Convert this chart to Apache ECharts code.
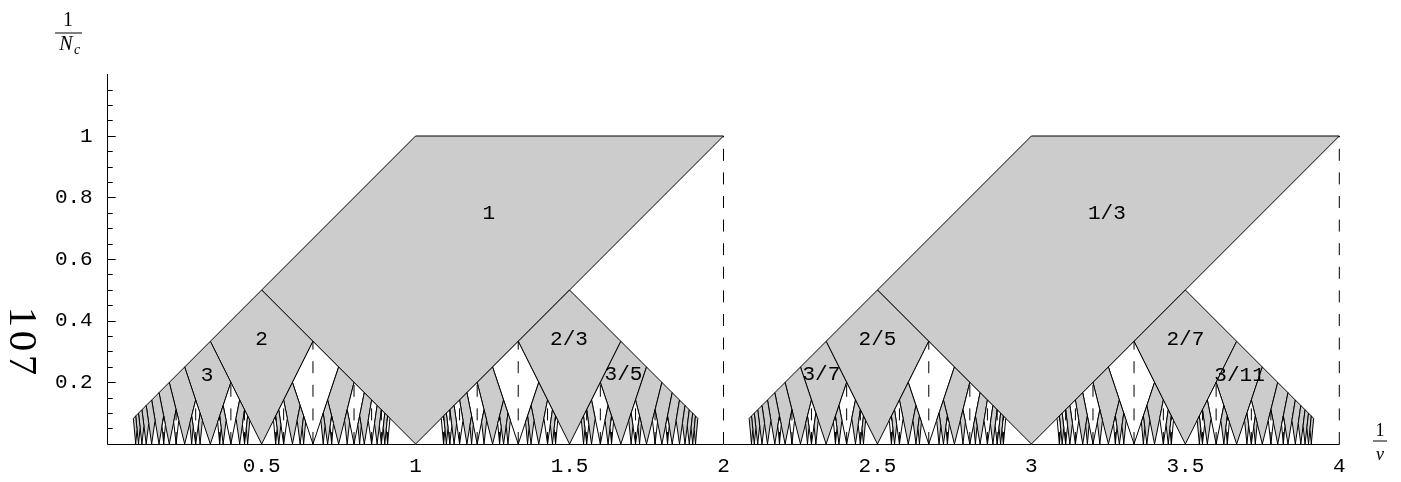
<!DOCTYPE html>
<html>
<head>
<meta charset="utf-8">
<script src="https://cdn.jsdelivr.net/npm/echarts@6/dist/echarts.min.js"></script>
<style>
html, body { margin: 0; padding: 0; background: #fff; }
#chart { width: 1401px; height: 482px; }
</style>
</head>
<body>
<div id="chart"></div>
<script>
// the two panels; the second is the first one shifted by 2 in 1/nu
var panelShifts = [0, 2];
// Farey bounds of a panel as [q, p] for x = q/p, height 1/p
var boundLeft = [0, 1];
var boundRight = [2, 1];
// largest N_c that still gets its own cell
var maxNc = 11;

var labelTexts = ['1', '2', '3', '2/3', '3/5', '1/3', '2/5', '3/7', '2/7', '3/11'];
var labelX = [1.238, 0.500, 0.323, 1.498, 1.675, 3.245, 2.500, 2.318, 3.500, 3.676];
var labelY = [0.750, 0.338, 0.224, 0.338, 0.227, 0.750, 0.338, 0.227, 0.338, 0.221];

var xTicks = [0.5, 1, 1.5, 2, 2.5, 3, 3.5, 4];
var yMajorTicks = [0.2, 0.4, 0.6, 0.8, 1];
var yMinorTicks = [0.05, 0.1, 0.15, 0.25, 0.3, 0.35, 0.45, 0.5, 0.55, 0.65, 0.7, 0.75,
                   0.85, 0.9, 0.95, 1.05, 1.1, 1.15];

function gcd(a, b) { return b ? gcd(b, a % b) : a; }
function med(a, b) {
    var q = a[0] + b[0], p = a[1] + b[1], g = gcd(q, p);
    return [q / g, p / g];
}

var cells = [];   // [xBottom, top, xLeft, yLeft, xRight, yRight, odd]
var dashes = [];  // [x, top]

function grow(lo, hi, root, shift) {
    var m = med(lo, hi);
    if (m[1] > maxNc) return;
    var lc = med(lo, m);
    // the root cell reaches to the right bound itself
    var rc = root ? hi : med(m, hi);
    var odd = m[0] % 2;
    cells.push([m[0] / m[1] + shift, 1 / m[1],
                lc[0] / lc[1] + shift, 1 / lc[1],
                rc[0] / rc[1] + shift, 1 / rc[1], odd]);
    if (!odd) dashes.push([m[0] / m[1] + shift, 1 / m[1]]);
    grow(lo, m, false, shift);
    grow(m, hi, false, shift);
}

panelShifts.forEach(function (s) {
    grow(boundLeft, boundRight, true, s);
    dashes.push([boundRight[0] / boundRight[1] + s, 1 / boundRight[1]]);
});

var mono = 'Liberation Mono';
var serif = 'Liberation Serif';

// rotated side text, one glyph at a time (a bit wider spacing than the font)
var sideText = '107'.split('').map(function (ch, i) {
    return { type: 'text', x: 21, y: 317 + i * 24, rotation: -Math.PI / 2,
             style: { text: ch, font: '41px ' + serif, fill: '#000',
                      align: 'center', verticalAlign: 'middle' } };
});

var chart = echarts.init(document.getElementById('chart'));
chart.setOption({
    animation: false,
    backgroundColor: '#fff',
    grid: { left: 107.7, right: 61.7, top: 74.4, bottom: 38 },
    xAxis: {
        type: 'value', min: 0, max: 4,
        axisLine: { lineStyle: { color: '#000', width: 1 } },
        axisTick: { show: false },
        splitLine: { show: false },
        axisLabel: {
            customValues: xTicks, color: '#000', fontFamily: mono, fontSize: 21, margin: 12
        }
    },
    yAxis: [{
        type: 'value', min: 0, max: 1.2,
        axisLine: { lineStyle: { color: '#000', width: 1 } },
        axisTick: { show: true, inside: true, length: 8, customValues: yMajorTicks,
                    lineStyle: { color: '#000' } },
        splitLine: { show: false },
        axisLabel: {
            customValues: yMajorTicks, color: '#000', fontFamily: mono, fontSize: 21, margin: 15
        }
    }, {
        type: 'value', min: 0, max: 1.2, position: 'left',
        axisLine: { show: false },
        axisTick: { show: true, inside: true, length: 5, customValues: yMinorTicks,
                    lineStyle: { color: '#000' } },
        axisLabel: { show: false },
        splitLine: { show: false }
    }],
    series: [{
        type: 'custom',
        silent: true,
        progressive: 0,
        data: cells,
        renderItem: function (params, api) {
            var b = api.coord([api.value(0), 0]);
            var l = api.coord([api.value(2), api.value(3)]);
            var t = api.coord([api.value(0), api.value(1)]);
            var r = api.coord([api.value(4), api.value(5)]);
            return {
                type: 'polygon',
                shape: { points: [b, l, t, r] },
                style: { fill: api.value(6) ? '#cccccc' : '#ffffff', stroke: '#000', lineWidth: 1 }
            };
        }
    }, {
        type: 'custom',
        silent: true,
        progressive: 0,
        z: 3,
        data: dashes,
        renderItem: function (params, api) {
            var b = api.coord([api.value(0), 0]);
            var t = api.coord([api.value(0), api.value(1)]);
            return {
                type: 'line',
                shape: { x1: b[0], y1: b[1], x2: t[0], y2: t[1] },
                style: { stroke: '#000', lineWidth: 1, lineDash: [12, 11.6] }
            };
        }
    }, {
        type: 'custom',
        silent: true,
        z: 5,
        data: labelX.map(function (x, i) { return [x, labelY[i], i]; }),
        renderItem: function (params, api) {
            var c = api.coord([api.value(0), api.value(1)]);
            return {
                type: 'text',
                x: c[0], y: c[1],
                style: { text: labelTexts[api.value(2)], fill: '#000', font: '21px ' + mono,
                         align: 'center', verticalAlign: 'middle' }
            };
        }
    }],
    graphic: [
        { type: 'text', x: 68, y: 21, style: { text: '1', font: '20px ' + serif, fill: '#000',
          align: 'center', verticalAlign: 'middle' } },
        { type: 'line', shape: { x1: 55, y1: 33, x2: 82, y2: 33 }, style: { stroke: '#000', lineWidth: 1 } },
        { type: 'text', x: 66, y: 45, style: { text: 'N', font: 'italic 20px ' + serif, fill: '#000',
          align: 'center', verticalAlign: 'middle' } },
        { type: 'text', x: 77, y: 50, style: { text: 'c', font: 'italic 14px ' + serif, fill: '#000',
          align: 'center', verticalAlign: 'middle' } },
        { type: 'text', x: 1380, y: 431, style: { text: '1', font: '18px ' + serif, fill: '#000',
          align: 'center', verticalAlign: 'middle' } },
        { type: 'line', shape: { x1: 1373, y1: 441, x2: 1387, y2: 441 }, style: { stroke: '#000', lineWidth: 1 } },
        { type: 'text', x: 1380, y: 455, style: { text: '\u03bd', font: 'italic 18px ' + serif, fill: '#000',
          align: 'center', verticalAlign: 'middle' } }
    ].concat(sideText)
});
</script>
</body>
</html>
